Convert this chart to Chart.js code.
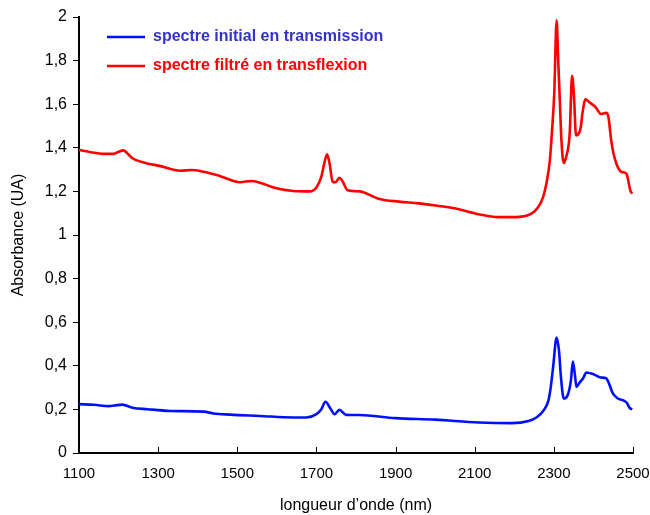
<!DOCTYPE html>
<html>
<head>
<meta charset="utf-8">
<script src="https://cdn.jsdelivr.net/npm/chart.js@4"></script>
<style>
  html, body { margin:0; padding:0; background:#fff; }
  #c { display:block; }
</style>
</head>
<body>
<canvas id="c" width="650" height="515"></canvas>
<script>
// wavelength (nm) / absorbance (UA)
const transX = [1100,1138,1176,1190,1210,1235,1273,1331,1415,1440,1482,1557,1641,1675,1700,1712,1723,1735,1746,1758,1775,1808,1900,2000,2110,2194,2236,2256,2273,2286,2292,2298,2307,2313,2318,2325,2334,2343,2348,2353,2357,2365,2374,2382,2399,2419,2432,2440,2448,2461,2478,2484,2492,2498];
const transY = [0.224,0.221,0.215,0.218,0.222,0.208,0.201,0.193,0.19,0.181,0.176,0.17,0.163,0.163,0.178,0.2,0.235,0.205,0.178,0.198,0.175,0.174,0.16,0.153,0.14,0.137,0.147,0.163,0.193,0.239,0.3,0.392,0.53,0.468,0.346,0.25,0.262,0.331,0.42,0.362,0.303,0.323,0.343,0.369,0.362,0.346,0.343,0.316,0.277,0.251,0.239,0.231,0.206,0.2];

const transfX = [1100,1130,1160,1188,1200,1212,1222,1235,1263,1306,1356,1385,1415,1457,1507,1536,1557,1599,1641,1683,1700,1712,1720,1727,1733,1741,1748,1758,1765,1779,1808,1859,1909,1959,2010,2060,2110,2160,2194,2236,2261,2273,2281,2290,2296,2301,2307,2311,2315,2319,2325,2331,2340,2346,2351,2356,2368,2372,2380,2389,2406,2419,2432,2438,2445,2453,2470,2483,2494,2498];
const transfY = [1.39,1.38,1.372,1.372,1.382,1.388,1.375,1.352,1.333,1.316,1.295,1.298,1.29,1.27,1.242,1.248,1.24,1.214,1.202,1.2,1.218,1.265,1.33,1.37,1.33,1.245,1.242,1.262,1.25,1.205,1.2,1.165,1.153,1.145,1.133,1.118,1.095,1.082,1.082,1.092,1.13,1.175,1.235,1.345,1.495,1.65,1.985,1.8,1.62,1.44,1.33,1.358,1.465,1.73,1.63,1.457,1.495,1.555,1.623,1.61,1.585,1.555,1.56,1.54,1.433,1.357,1.29,1.282,1.2,1.19];

const labels = ['spectre initial en transmission', 'spectre filtré en transflexion'];

const FONT = '"Liberation Sans", Arial, sans-serif';
const pts = (xs, ys) => xs.map((x, i) => ({ x, y: ys[i] }));

// x ticks point up into the plot, plus the little legend top-left
const extras = {
  id: 'extras',
  afterDraw(chart) {
    const ctx = chart.ctx, a = chart.chartArea, xs = chart.scales.x;
    ctx.save();
    ctx.strokeStyle = '#000';
    ctx.lineWidth = 1;
    xs.ticks.forEach(t => {
      const px = Math.round(xs.getPixelForValue(t.value)) + 0.5;
      ctx.beginPath();
      ctx.moveTo(px, a.bottom);
      ctx.lineTo(px, a.bottom - 6);
      ctx.stroke();
    });
    ctx.font = 'bold 16px ' + FONT;
    ctx.textBaseline = 'middle';
    chart.data.datasets.forEach((ds, i) => {
      const y = a.top + 20 + i * 29;
      ctx.strokeStyle = ds.borderColor;
      ctx.lineWidth = 2.5;
      ctx.beginPath();
      ctx.moveTo(a.left + 28, y);
      ctx.lineTo(a.left + 66, y);
      ctx.stroke();
      ctx.fillStyle = ds.legendColor;
      ctx.fillText(ds.label, a.left + 74, y);
    });
    ctx.restore();
  }
};

new Chart(document.getElementById('c'), {
  type: 'line',
  data: { datasets: [
    { label: labels[0], data: pts(transX, transY), borderColor: '#0010ff', legendColor: '#3333cc',
      borderWidth: 2.6, pointRadius: 0, cubicInterpolationMode: 'monotone' },
    { label: labels[1], data: pts(transfX, transfY), borderColor: '#ff0000', legendColor: '#ff0000',
      borderWidth: 2.6, pointRadius: 0, cubicInterpolationMode: 'monotone' },
  ]},
  options: {
    responsive: false, animation: false,
    layout: { padding: { top: 17, right: 0, left: 0, bottom: 0 } },
    plugins: { legend: { display: false }, tooltip: { enabled: false } },
    scales: {
      x: {
        type: 'linear', min: 1100, max: 2500,
        afterFit: s => { s.height = 62; s.paddingLeft = 0; s.paddingRight = 17; },
        ticks: { stepSize: 200, color: '#000', font: { size: 15, family: FONT }, padding: 12, maxRotation: 0,
                 callback: v => String(v) },
        grid: { drawOnChartArea: false, drawTicks: false },
        border: { color: '#000', width: 2 },
        title: { display: true, text: 'longueur d\u2019onde (nm)', color: '#000',
                 font: { size: 16, family: FONT }, padding: { top: 0, bottom: 0 } },
      },
      y: {
        min: 0, max: 2,
        afterFit: s => { s.width = 79; },
        ticks: { stepSize: 0.2, color: '#000', font: { size: 16, family: FONT }, padding: 6,
                 callback: v => String(Math.round(v * 10) / 10).replace('.', ',') },
        grid: { drawOnChartArea: false, drawTicks: true, tickLength: 6, color: '#000' },
        border: { color: '#000', width: 2 },
        title: { display: true, text: 'Absorbance (UA)', color: '#000',
                 font: { size: 16, family: FONT }, padding: { top: 9, bottom: 0 } },
      },
    },
  },
  plugins: [extras],
});
</script>
</body>
</html>
